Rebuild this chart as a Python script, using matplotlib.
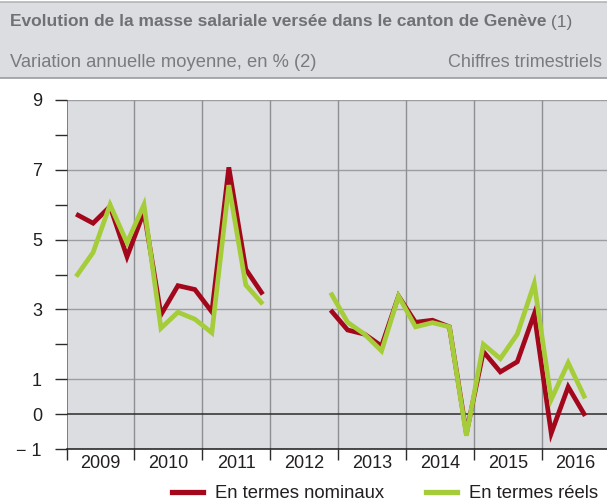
import numpy as np
import matplotlib
matplotlib.use("Agg")
import matplotlib.pyplot as plt
from matplotlib.lines import Line2D
from matplotlib.patches import Rectangle

plt.rcParams['font.family'] = ['Liberation Sans', 'DejaVu Sans']

# ---------------- data ----------------
years = [2009, 2010, 2011, 2012, 2013, 2014, 2015, 2016]
year_labels = ["2009", "2010", "2011", "2012", "2013", "2014", "2015", "2016"]

# quarterly values, 2009T1 .. 2011T4
nominal_part1 = [5.73, 5.47, 5.95, 4.51, 5.80, 2.85, 3.68, 3.57, 2.93, 7.07, 4.15, 3.43]
reel_part1 = [3.94, 4.63, 6.00, 4.91, 6.00, 2.46, 2.92, 2.72, 2.33, 6.56, 3.70, 3.15]
# 2012T1 .. 2012T3 : no data
# quarterly values, 2012T4 .. 2016T3
nominal_part2 = [2.98, 2.41, 2.29, 1.95, 3.38, 2.63, 2.69, 2.50, -0.55,
                 1.79, 1.21, 1.50, 2.87, -0.55, 0.78, -0.05]
reel_part2 = [3.48, 2.63, 2.29, 1.81, 3.38, 2.50, 2.62, 2.50, -0.62,
              2.00, 1.59, 2.29, 3.74, 0.42, 1.47, 0.45]

y_ticks = [-1, 0, 1, 3, 5, 7, 9]
y_tick_labels = ["\u2212 1", "0", "1", "3", "5", "7", "9"]

title = "Evolution de la masse salariale versée dans le canton de Genève"
title_note = " (1)"
subtitle_left = "Variation annuelle moyenne, en % (2)"
subtitle_right = "Chiffres trimestriels"
legend_labels = ["En termes nominaux", "En termes réels"]

# ---------------- build series ----------------
gap = [np.nan] * 3
nominal = np.array(nominal_part1 + gap + nominal_part2)
reel = np.array(reel_part1 + gap + reel_part2)
n = len(nominal)
x = np.array([years[0] + 0.14 + 0.25 * i for i in range(n)])

RED = "#a3071c"
GREEN = "#a5cd39"
BG = "#dcdde0"

W, H = 607, 503
fig = plt.figure(figsize=(W / 100, H / 100), dpi=100)
fig.patch.set_facecolor("white")

# header band
fig.patches.append(Rectangle((0, 1 - 78 / H), 1, 76 / H, transform=fig.transFigure,
                             facecolor=BG, edgecolor="none", zorder=0))
fig.add_artist(Line2D([0, 1], [1 - 1.5 / H] * 2, color="#b4b5b8", lw=1.2))
fig.add_artist(Line2D([0, 1], [1 - 78 / H] * 2, color="#9a9b9e", lw=1.2))

t = fig.text(10 / W, 1 - 22 / H, title, fontsize=12.5, fontweight="bold",
             color="#707174", va="center", ha="left")
fig.canvas.draw()
bb = t.get_window_extent()
fig.text(bb.x1 / W, 1 - 22 / H, title_note, fontsize=12.5, color="#707174",
         va="center", ha="left")
fig.text(10 / W, 1 - 63 / H, subtitle_left, fontsize=13.2, color="#7a7b7e",
         va="center", ha="left")
fig.text(602 / W, 1 - 63 / H, subtitle_right, fontsize=13, color="#7a7b7e",
         va="center", ha="right")

# axes
left_px, right_px = 66.6, 609.6
top_px, bot_px = 100, 449
ax = fig.add_axes([left_px / W, 1 - bot_px / H, (right_px - left_px) / W,
                   (bot_px - top_px) / H])
ax.set_facecolor(BG)
ax.set_ylim(-1, 9)
ax.set_xlim(years[0], years[-1] + 1)

# grid
for yv in [1, 3, 5, 7, 9]:
    ax.axhline(yv, color="#9d9ea1", lw=1.0, zorder=1)
for xv in years[1:]:
    ax.axvline(xv, color="#8e8f92", lw=1.0, zorder=1)
ax.axvline(years[0], color="#6d6e70", lw=1.2, zorder=1)
ax.axhline(0, color="#2b2b2b", lw=1.1, zorder=2)

ax.plot(x, nominal, color=RED, lw=3.4, zorder=3, solid_joinstyle="miter",
        solid_capstyle="butt")
ax.plot(x, reel, color=GREEN, lw=3.4, zorder=4, solid_joinstyle="miter",
        solid_capstyle="butt")

for s in ["top", "right", "left"]:
    ax.spines[s].set_visible(False)
ax.spines["bottom"].set_color("#1a1a1a")
ax.spines["bottom"].set_linewidth(1.1)

ax.set_yticks(y_ticks)
ax.set_yticklabels(y_tick_labels)
ax.set_yticks([2, 4, 6, 8], minor=True)
ax.tick_params(axis="y", which="both", direction="out", length=8.3, width=1.0,
               color="#2b2b2b", labelsize=13, labelcolor="#231f20", pad=9.5)

ax.set_xticks(years + [years[-1] + 1])
ax.set_xticklabels([])
ax.set_xticks([y + 0.5 for y in years], minor=True)
ax.set_xticklabels(year_labels, minor=True)
ax.tick_params(axis="x", which="major", direction="out", length=8, width=1.0,
               color="#2b2b2b")
ax.tick_params(axis="x", which="minor", length=0, labelsize=13,
               labelcolor="#231f20", pad=4)

handles = [Line2D([], [], color=RED, lw=3.8), Line2D([], [], color=GREEN, lw=3.8)]
fig.legend(handles, legend_labels, loc="center right",
           bbox_to_anchor=(598 / W, 1 - 494 / H), ncol=2, frameon=False,
           fontsize=13.3, handlelength=1.68, handletextpad=0.65,
           columnspacing=2.27, borderaxespad=0, borderpad=0,
           labelcolor="#231f20")

fig.savefig("out.png", dpi=100, facecolor="white")
